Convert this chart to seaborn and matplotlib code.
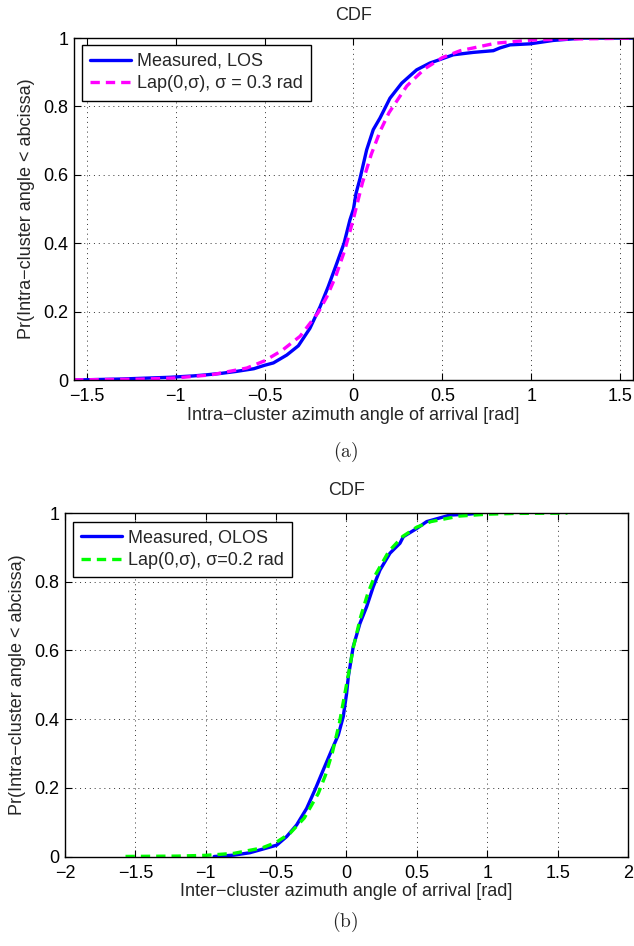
import numpy as np
import matplotlib
matplotlib.use("Agg")
import matplotlib.pyplot as plt
import seaborn as sns

# values
# (a) LOS, intra-cluster
los_meas_x = [-1.57, -1.3, -1.03, -0.9, -0.83, -0.75, -0.66, -0.56, -0.50, -0.45,
              -0.375, -0.31, -0.245, -0.188, -0.142, -0.094, -0.053, -0.02, 0.0, 0.014,
              0.037, 0.074, 0.111, 0.149, 0.205, 0.271, 0.355, 0.43, 0.48, 0.561,
              0.673, 0.786, 0.823, 0.88, 0.992, 1.123, 1.292, 1.57]
los_meas_y = [0.0, 0.003, 0.008, 0.012, 0.015, 0.019, 0.025, 0.033, 0.043, 0.050,
              0.073, 0.100, 0.151, 0.214, 0.273, 0.341, 0.400, 0.468, 0.50, 0.545,
              0.59, 0.673, 0.732, 0.766, 0.824, 0.868, 0.907, 0.927, 0.936, 0.951,
              0.958, 0.963, 0.971, 0.980, 0.983, 0.993, 1.0, 1.0]
los_lap_x = [-1.57, -1.2, -1.0, -0.8, -0.6, -0.5, -0.4, -0.3, -0.2, -0.15, -0.1, -0.05,
             0.0, 0.05, 0.1, 0.15, 0.2, 0.3, 0.4, 0.5, 0.6, 0.8, 1.0, 1.2, 1.57]
los_lap_y = [0.0004, 0.0025, 0.006, 0.015, 0.035, 0.056, 0.087, 0.128, 0.196, 0.243,
             0.303, 0.378, 0.472, 0.576, 0.660, 0.728, 0.782, 0.860, 0.910, 0.943,
             0.963, 0.985, 0.994, 0.997, 0.9995]

# (b) OLOS, inter-cluster
olos_meas_x = [-0.94, -0.8, -0.686, -0.496, -0.425, -0.354, -0.283, -0.224, -0.165,
               -0.105, -0.058, -0.023, 0.001, 0.013, 0.048, 0.096, 0.143, 0.190, 0.238,
               0.309, 0.380, 0.404, 0.499, 0.570, 0.735, 0.877, 0.95]
olos_meas_y = [0.0, 0.004, 0.011, 0.033, 0.058, 0.092, 0.140, 0.194, 0.252,
               0.310, 0.354, 0.407, 0.475, 0.523, 0.611, 0.679, 0.727, 0.785, 0.834,
               0.883, 0.912, 0.931, 0.955, 0.975, 0.994, 0.997, 1.0]
olos_lap_x = [-1.57, -1.2, -1.0, -0.8, -0.6, -0.5, -0.4, -0.3, -0.2, -0.15, -0.1, -0.05,
              0.0, 0.05, 0.1, 0.15, 0.2, 0.3, 0.4, 0.5, 0.6, 0.8, 1.0, 1.2, 1.57]
olos_lap_y = [0.0002, 0.0012, 0.0034, 0.0092, 0.025, 0.041, 0.068, 0.112, 0.184, 0.236,
              0.303, 0.389, 0.5, 0.611, 0.697, 0.764, 0.816, 0.888, 0.932, 0.959,
              0.975, 0.991, 0.9966, 0.9988, 0.9998]

yticks = [0, 0.2, 0.4, 0.6, 0.8, 1]
top_xticks = [-1.5, -1, -0.5, 0, 0.5, 1, 1.5]
bot_xticks = [-2, -1.5, -1, -0.5, 0, 0.5, 1, 1.5, 2]

ylabel = "Pr(Intra\u2212cluster angle < abcissa)"
top_xlabel = "Intra\u2212cluster azimuth angle of arrival [rad]"
bot_xlabel = "Inter\u2212cluster azimuth angle of arrival [rad]"

sns.set_style("ticks")
plt.rcParams["font.family"] = ["Liberation Sans", "DejaVu Sans"]
plt.rcParams["mathtext.fontset"] = "cm"
FS = 13


def lab(v):
    return "{:g}".format(v).replace("-", "\u2212")


def style_axes(ax, xticks, xlim, xlabel):
    ax.set_xlim(*xlim)
    ax.set_ylim(0, 1)
    ax.set_xticks(xticks)
    ax.set_xticklabels([lab(v) for v in xticks], fontsize=FS)
    ax.set_yticks(yticks)
    ax.set_yticklabels([lab(v) for v in yticks], fontsize=FS)
    ax.tick_params(direction="in", length=5, width=0.8, top=True, right=True,
                   colors="black")
    ax.tick_params(axis="x", pad=6)
    ax.tick_params(axis="y", pad=4)
    for s in ax.spines.values():
        s.set_visible(True)
        s.set_linewidth(1.0)
        s.set_color("black")
    ax.grid(True, linestyle=(0, (1, 4)), color="#333333", linewidth=0.7)
    ax.set_axisbelow(True)
    ax.set_xlabel(xlabel, fontsize=FS, labelpad=1)
    ax.set_ylabel(ylabel, fontsize=FS, labelpad=6)
    ax.set_title("CDF", fontsize=FS, pad=13)


fig = plt.figure(figsize=(6.34, 9.46), dpi=100)
ax1 = fig.add_axes([0.1167, 0.5983, 0.8817, 0.3615])
ax2 = fig.add_axes([0.1025, 0.0946, 0.888, 0.3631])

sns.lineplot(x=los_meas_x, y=los_meas_y, ax=ax1, color="#0000ff", linewidth=2.4,
             label="Measured, LOS", sort=False)
sns.lineplot(x=los_lap_x, y=los_lap_y, ax=ax1, color="#ff00ff", linewidth=2.4,
             linestyle=(0, (2.8, 1.8)), label="Lap(0,\u03c3), \u03c3 = 0.3 rad", sort=False)
style_axes(ax1, top_xticks, (-np.pi / 2, np.pi / 2), top_xlabel)

sns.lineplot(x=olos_meas_x, y=olos_meas_y, ax=ax2, color="#0000ff", linewidth=2.4,
             label="Measured, OLOS", sort=False)
sns.lineplot(x=olos_lap_x, y=olos_lap_y, ax=ax2, color="#00ff00", linewidth=2.4,
             linestyle=(0, (2.8, 1.8)), label="Lap(0,\u03c3), \u03c3=0.2 rad", sort=False)
style_axes(ax2, bot_xticks, (-2, 2), bot_xlabel)

for ax, anchor in [(ax1, (0.0138, 0.98)), (ax2, (0.0137, 0.975))]:
    leg = ax.legend(loc="upper left", bbox_to_anchor=anchor, borderaxespad=0,
                    fontsize=FS, fancybox=False, framealpha=1, edgecolor="black",
                    handlelength=2.3, handletextpad=0.3, labelspacing=0.3,
                    borderpad=0.45)
    leg.get_frame().set_linewidth(1.0)

fig.text(0.545, 1 - 452 / 946, r"$\mathrm{(a)}$", ha="center", va="center", fontsize=14)
fig.text(0.545, 1 - 922 / 946, r"$\mathrm{(b)}$", ha="center", va="center", fontsize=14)

fig.savefig("out.png", dpi=100)
